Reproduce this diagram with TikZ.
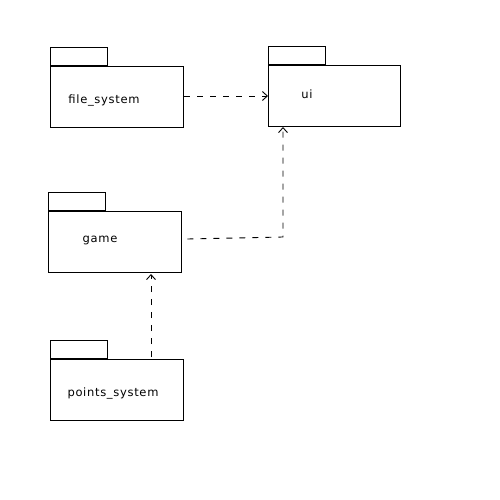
\documentclass[tikz,border=0pt]{standalone}
\usepackage{fontspec}
\setmainfont[LetterSpace=6]{DejaVu Sans}
\usetikzlibrary{arrows.meta}
\begin{document}
\begin{tikzpicture}[x=1pt,y=-1pt,
  pkgbody/.style={draw,line width=1.3pt,minimum width=133pt,minimum height=61pt,inner sep=0pt,anchor=north west},
  pkgtab/.style={draw,line width=1.3pt,minimum width=57pt,minimum height=18pt,inner sep=0pt,anchor=south west},
  lbl/.style={font=\fontsize{11.5}{13}\selectfont},
  dep/.style={line width=0.9pt,dash pattern=on 6pt off 7pt,-{Straight Barb[length=5pt,width=9pt,line width=0.9pt]}}]
\useasboundingbox (0,0) rectangle (500,500);
% file_system
\node[pkgbody] (fsb) at (50,66) {};
\node[pkgtab] (fst) at (fsb.north west) {};
\node[lbl] (fs) at (104,100) {file\_system};
% ui
\node[pkgbody,minimum width=132pt] (uib) at (268,65) {};
\node[pkgtab] (uit) at (uib.north west) {};
\node[lbl] (ui) at (307,94) {ui};
% game
\node[pkgbody] (gmb) at (48,211) {};
\node[pkgtab] (gmt) at (gmb.north west) {};
\node[lbl] (gm) at (100,240) {game};
% points_system
\node[pkgbody] (psb) at (50,359) {};
\node[pkgtab] (pst) at (psb.north west) {};
\node[lbl] (ps) at (113,393) {points\_system};
% connectors
\coordinate (c1) at (283,237);
\draw[dep] (fsb.east |- 0,96) -- (uib.west |- 0,96);
\draw[dep] ([xshift=5pt]gmb.east |- 0,239) -- (c1) -- (283,127);
\draw[dep] (151,357) -- (151,274);
\end{tikzpicture}
\end{document}
